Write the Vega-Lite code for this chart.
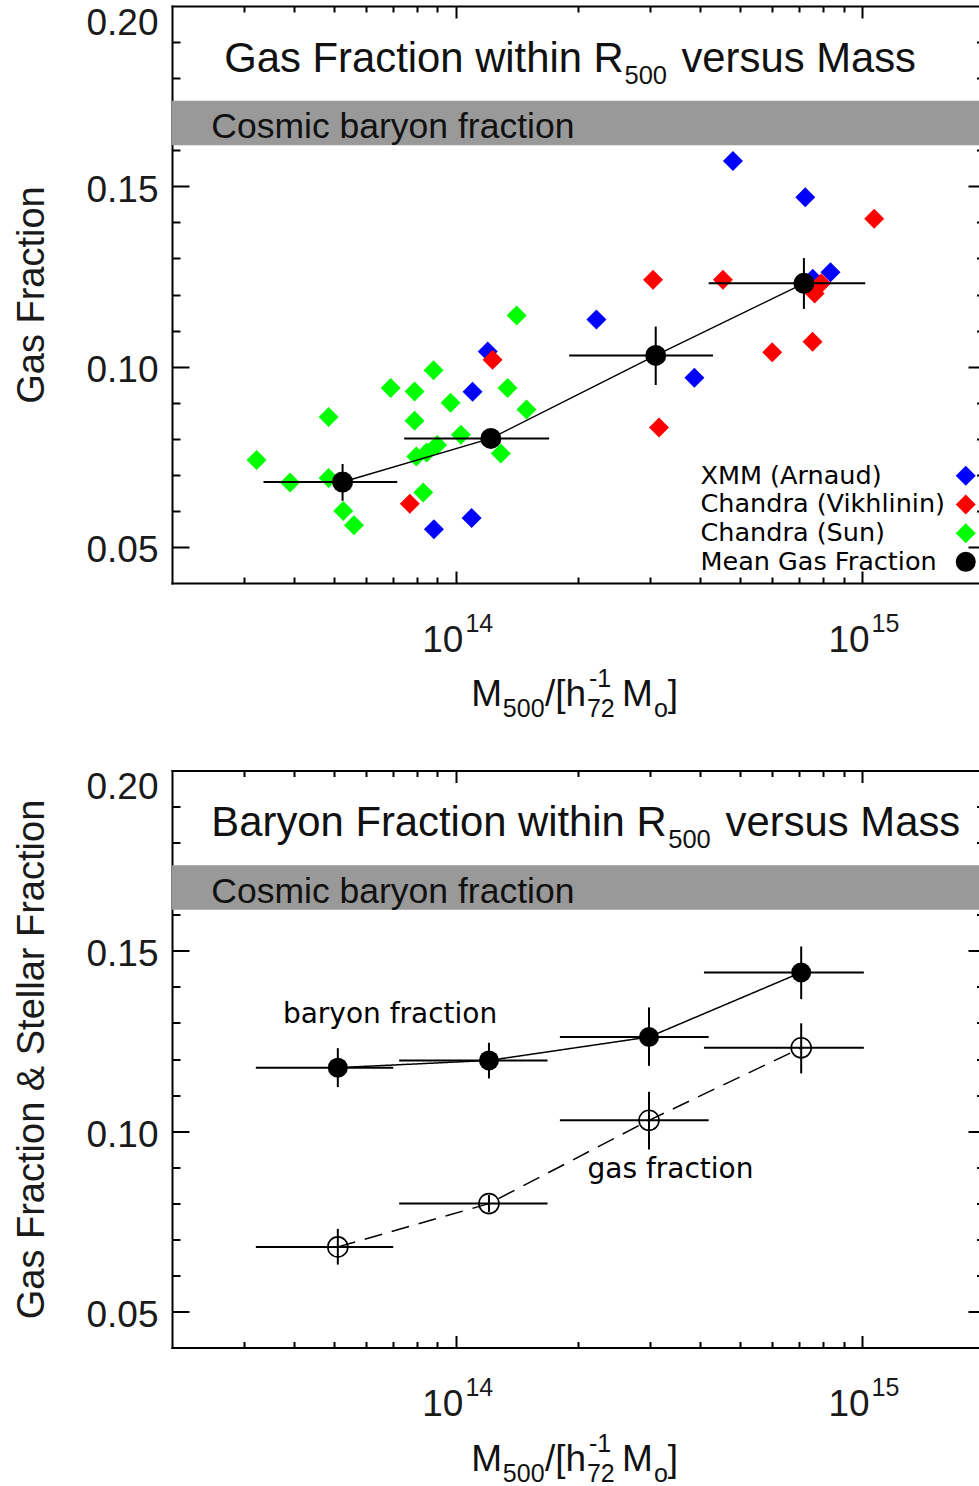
{
  "$schema": "https://vega.github.io/schema/vega-lite/v6.json",
  "padding": {"left": 13, "top": 4, "right": 0, "bottom": 0},
  "background": "white",
  "bounds": "flush",
  "spacing": 187.5,
  "config": {
    "view": {"stroke": null},
    "font": "Liberation Sans",
    "axis": {"grid": false, "domainColor": "black", "domainWidth": 2, "domainCap": "square", "tickColor": "black", "tickWidth": 2, "labelColor": "#1a1a1a", "labelFont": "Liberation Sans", "titleFont": "Liberation Sans", "titleColor": "#1a1a1a", "titleFontWeight": "normal", "labelOverlap": false, "labelFlush": false, "labelBound": false},
    "text": {"font": "Liberation Sans"}
  },
  "resolve": {
    "scale": {"x": "independent", "y": "independent", "color": "independent", "shape": "independent", "strokeDash": "independent"},
    "legend": {"color": "independent", "shape": "independent", "strokeDash": "independent"}
  },
  "vconcat": [
    {
      "width": 807,
      "height": 577,
      "resolve": {"axis": {"x": "independent", "y": "independent"}},
      "layer": [
        {
          "data": {"values": [{"m": 2e13, "m2": 1.94e15, "f": 0.1614, "f2": 0.1737}]},
          "mark": {"type": "rect", "color": "#999999"},
          "encoding": {
            "x": {"field": "m", "type": "quantitative", "scale": {"type": "log", "domain": [2e13, 1.94e15], "nice": false},
              "axis": {"orient": "bottom", "values": [1e14, 1e15], "labelExpr": "'10'", "ticks": false, "domain": true, "labelFontSize": 37, "labelAlign": "right", "labelBaseline": "alphabetic", "labelPadding": 68, "labelOffset": 7, "title": null}},
            "x2": {"field": "m2"},
            "y": {"field": "f", "type": "quantitative", "scale": {"domain": [0.04, 0.2], "nice": false, "zero": false},
              "axis": {"orient": "left", "values": [0.05, 0.1, 0.15, 0.2], "format": ".2f", "ticks": false, "domain": true, "labelFontSize": 37, "labelPadding": 14, "labelOffset": {"condition": {"test": "datum.value > 0.199", "value": 17}, "value": 4}, "title": "Gas Fraction", "titleFontSize": 38, "titleX": -129, "titleBaseline": "alphabetic", "titleAngle": -90}},
            "y2": {"field": "f2"}
          }
        },
        {
          "data": {"values": [{"m": 2.5e13, "f": 0.1633, "t": "Cosmic baryon fraction"}]},
          "mark": {"type": "text", "align": "left", "baseline": "alphabetic", "fontSize": 35.5, "color": "#111111"},
          "encoding": {
            "x": {"field": "m", "type": "quantitative", "scale": {"type": "log", "domain": [2e13, 1.94e15], "nice": false},
              "axis": {"orient": "bottom", "values": [1e14, 1e15], "labelExpr": "'' + round(log(datum.value) / LN10)", "ticks": false, "domain": false, "labelFontSize": 25, "labelAlign": "left", "labelBaseline": "alphabetic", "labelPadding": 48, "labelOffset": 9, "title": null}},
            "y": {"field": "f", "type": "quantitative", "scale": {"domain": [0.04, 0.2], "nice": false, "zero": false},
              "axis": {"orient": "left", "values": [0.05, 0.06, 0.07, 0.08, 0.09, 0.1, 0.11, 0.12, 0.13, 0.14, 0.15, 0.16, 0.17, 0.18, 0.19], "labels": false, "domain": false, "ticks": true, "tickSize": {"condition": {"test": "abs(datum.value * 20 - round(datum.value * 20)) < 0.001", "value": -17}, "value": -8}, "title": null}},
            "text": {"field": "t"}
          }
        },
        {
          "data": {"values": [{"m": 2.69e13, "f": 0.1817, "t": "Gas Fraction within R"}, {"m": 3.591e14, "f": 0.1817, "t": "versus Mass"}]},
          "mark": {"type": "text", "align": "left", "baseline": "alphabetic", "fontSize": 41.8, "color": "#111111"},
          "encoding": {
            "x": {"field": "m", "type": "quantitative", "scale": {"type": "log", "domain": [2e13, 1.94e15], "nice": false},
              "axis": {"orient": "bottom", "values": [3e13, 4e13, 5e13, 6e13, 7e13, 8e13, 9e13, 1e14, 2e14, 3e14, 4e14, 5e14, 6e14, 7e14, 8e14, 9e14, 1e15], "labels": false, "domain": false, "ticks": true, "tickSize": {"condition": {"test": "abs(log(datum.value) / LN10 - round(log(datum.value) / LN10)) < 0.001", "value": -12}, "value": -6}, "title": null}},
            "y": {"field": "f", "type": "quantitative", "scale": {"domain": [0.04, 0.2], "nice": false, "zero": false},
              "axis": {"orient": "right", "values": [0.05, 0.06, 0.07, 0.08, 0.09, 0.1, 0.11, 0.12, 0.13, 0.14, 0.15, 0.16, 0.17, 0.18, 0.19], "labels": false, "domain": false, "ticks": true, "tickSize": {"condition": {"test": "abs(datum.value * 20 - round(datum.value * 20)) < 0.001", "value": -11}, "value": -2.5}, "title": null}},
            "text": {"field": "t"}
          }
        },
        {
          "data": {"values": [{"m": 2.6e14, "f": 0.1784, "t": "500"}]},
          "mark": {"type": "text", "align": "left", "baseline": "alphabetic", "fontSize": 25.5, "color": "#111111"},
          "encoding": {
            "x": {"field": "m", "type": "quantitative", "scale": {"type": "log", "domain": [2e13, 1.94e15], "nice": false},
              "axis": {"orient": "top", "values": [3e13, 4e13, 5e13, 6e13, 7e13, 8e13, 9e13, 1e14, 2e14, 3e14, 4e14, 5e14, 6e14, 7e14, 8e14, 9e14, 1e15], "labels": false, "domain": true, "ticks": true, "tickSize": {"condition": {"test": "abs(log(datum.value) / LN10 - round(log(datum.value) / LN10)) < 0.001", "value": -12}, "value": -6}, "title": null}},
            "y": {"field": "f", "type": "quantitative", "scale": {"domain": [0.04, 0.2], "nice": false, "zero": false}, "axis": null},
            "text": {"field": "t"}
          }
        },
        {
          "data": {"values": [
            {"s": "XMM (Arnaud)", "m": 1.198e14, "f": 0.1042},
            {"s": "XMM (Arnaud)", "m": 1.099e14, "f": 0.0930},
            {"s": "XMM (Arnaud)", "m": 8.83e13, "f": 0.0549},
            {"s": "XMM (Arnaud)", "m": 1.093e14, "f": 0.0580},
            {"s": "XMM (Arnaud)", "m": 2.218e14, "f": 0.1131},
            {"s": "XMM (Arnaud)", "m": 3.865e14, "f": 0.0969},
            {"s": "XMM (Arnaud)", "m": 4.808e14, "f": 0.1570},
            {"s": "XMM (Arnaud)", "m": 7.245e14, "f": 0.1470},
            {"s": "XMM (Arnaud)", "m": 8.36e14, "f": 0.1262},
            {"s": "XMM (Arnaud)", "m": 7.56e14, "f": 0.1244},
            {"s": "Chandra (Vikhlinin)", "m": 1.231e14, "f": 0.1019},
            {"s": "Chandra (Vikhlinin)", "m": 7.70e13, "f": 0.0620},
            {"s": "Chandra (Vikhlinin)", "m": 3.057e14, "f": 0.1241},
            {"s": "Chandra (Vikhlinin)", "m": 4.544e14, "f": 0.1241},
            {"s": "Chandra (Vikhlinin)", "m": 3.162e14, "f": 0.0831},
            {"s": "Chandra (Vikhlinin)", "m": 6.008e14, "f": 0.1040},
            {"s": "Chandra (Vikhlinin)", "m": 7.551e14, "f": 0.1069},
            {"s": "Chandra (Vikhlinin)", "m": 1.071e15, "f": 0.1410},
            {"s": "Chandra (Vikhlinin)", "m": 7.93e14, "f": 0.1231},
            {"s": "Chandra (Vikhlinin)", "m": 7.64e14, "f": 0.1203},
            {"s": "Chandra (Sun)", "m": 3.23e13, "f": 0.0741},
            {"s": "Chandra (Sun)", "m": 3.905e13, "f": 0.0679},
            {"s": "Chandra (Sun)", "m": 4.86e13, "f": 0.0860},
            {"s": "Chandra (Sun)", "m": 4.86e13, "f": 0.0691},
            {"s": "Chandra (Sun)", "m": 5.28e13, "f": 0.0600},
            {"s": "Chandra (Sun)", "m": 5.61e13, "f": 0.0560},
            {"s": "Chandra (Sun)", "m": 6.91e13, "f": 0.0941},
            {"s": "Chandra (Sun)", "m": 7.91e13, "f": 0.0931},
            {"s": "Chandra (Sun)", "m": 7.91e13, "f": 0.0850},
            {"s": "Chandra (Sun)", "m": 8.81e13, "f": 0.0990},
            {"s": "Chandra (Sun)", "m": 9.70e13, "f": 0.0900},
            {"s": "Chandra (Sun)", "m": 1.029e14, "f": 0.0811},
            {"s": "Chandra (Sun)", "m": 7.99e13, "f": 0.0751},
            {"s": "Chandra (Sun)", "m": 8.47e13, "f": 0.0762},
            {"s": "Chandra (Sun)", "m": 8.99e13, "f": 0.0783},
            {"s": "Chandra (Sun)", "m": 8.31e13, "f": 0.0651},
            {"s": "Chandra (Sun)", "m": 1.411e14, "f": 0.1142},
            {"s": "Chandra (Sun)", "m": 1.340e14, "f": 0.0941},
            {"s": "Chandra (Sun)", "m": 1.492e14, "f": 0.0881},
            {"s": "Chandra (Sun)", "m": 1.290e14, "f": 0.0759}
          ]},
          "mark": {"type": "point", "filled": true, "size": 400, "opacity": 1},
          "encoding": {
            "x": {"field": "m", "type": "quantitative", "scale": {"type": "log", "domain": [2e13, 1.94e15], "nice": false}, "axis": null},
            "y": {"field": "f", "type": "quantitative", "scale": {"domain": [0.04, 0.2], "nice": false, "zero": false}, "axis": null},
            "color": {"field": "s", "type": "nominal",
              "scale": {"domain": ["XMM (Arnaud)", "Chandra (Vikhlinin)", "Chandra (Sun)", "Mean Gas Fraction"], "range": ["#0000ff", "#ff0000", "#00ff00", "#000000"]},
              "legend": {"orient": "none", "legendX": 781, "legendY": 457, "title": null, "labelFont": "DejaVu Sans", "labelFontSize": 25.5, "labelColor": "black", "labelLimit": 500, "symbolSize": 400, "labelOffset": -278, "labelAlign": "left", "rowPadding": 1.7, "padding": 0, "symbolStrokeWidth": 0}},
            "shape": {"field": "s", "type": "nominal",
              "scale": {"domain": ["XMM (Arnaud)", "Chandra (Vikhlinin)", "Chandra (Sun)", "Mean Gas Fraction"], "range": ["diamond", "diamond", "diamond", "circle"]},
              "legend": {"orient": "none", "legendX": 781, "legendY": 457, "title": null, "labelFont": "DejaVu Sans", "labelFontSize": 25.5, "labelColor": "black", "labelLimit": 500, "symbolSize": 400, "labelOffset": -278, "labelAlign": "left", "rowPadding": 1.7, "padding": 0, "symbolStrokeWidth": 0}}
          }
        },
        {
          "data": {"values": [
            {"s": "Mean Gas Fraction", "m": 5.26e13, "f": 0.0680, "mlo": 3.36e13, "mhi": 7.17e13, "flo": 0.0628, "fhi": 0.0730},
            {"s": "Mean Gas Fraction", "m": 1.219e14, "f": 0.0801, "mlo": 7.46e13, "mhi": 1.696e14, "flo": 0.0777, "fhi": 0.0825},
            {"s": "Mean Gas Fraction", "m": 3.104e14, "f": 0.1031, "mlo": 1.900e14, "mhi": 4.294e14, "flo": 0.0949, "fhi": 0.1111},
            {"s": "Mean Gas Fraction", "m": 7.19e14, "f": 0.1231, "mlo": 4.19e14, "mhi": 1.018e15, "flo": 0.1160, "fhi": 0.1301}
          ]},
          "layer": [
            {
              "mark": {"type": "line", "color": "black", "strokeWidth": 1.5},
              "encoding": {
                "x": {"field": "m", "type": "quantitative", "scale": {"type": "log", "domain": [2e13, 1.94e15], "nice": false}, "axis": null},
                "y": {"field": "f", "type": "quantitative", "scale": {"domain": [0.04, 0.2], "nice": false, "zero": false}, "axis": null}
              }
            },
            {
              "mark": {"type": "rule", "color": "black", "strokeWidth": 2},
              "encoding": {
                "x": {"field": "mlo", "type": "quantitative", "scale": {"type": "log", "domain": [2e13, 1.94e15], "nice": false}, "axis": null},
                "x2": {"field": "mhi"},
                "y": {"field": "f", "type": "quantitative", "scale": {"domain": [0.04, 0.2], "nice": false, "zero": false}, "axis": null}
              }
            },
            {
              "mark": {"type": "rule", "color": "black", "strokeWidth": 2},
              "encoding": {
                "x": {"field": "m", "type": "quantitative", "scale": {"type": "log", "domain": [2e13, 1.94e15], "nice": false}, "axis": null},
                "y": {"field": "flo", "type": "quantitative", "scale": {"domain": [0.04, 0.2], "nice": false, "zero": false}, "axis": null},
                "y2": {"field": "fhi"}
              }
            },
            {
              "mark": {"type": "point", "filled": true, "size": 441, "opacity": 1},
              "encoding": {
                "x": {"field": "m", "type": "quantitative", "scale": {"type": "log", "domain": [2e13, 1.94e15], "nice": false}, "axis": null},
                "y": {"field": "f", "type": "quantitative", "scale": {"domain": [0.04, 0.2], "nice": false, "zero": false}, "axis": null},
                "color": {"field": "s", "type": "nominal", "scale": {"domain": ["XMM (Arnaud)", "Chandra (Vikhlinin)", "Chandra (Sun)", "Mean Gas Fraction"], "range": ["#0000ff", "#ff0000", "#00ff00", "#000000"]}},
                "shape": {"field": "s", "type": "nominal", "scale": {"domain": ["XMM (Arnaud)", "Chandra (Vikhlinin)", "Chandra (Sun)", "Mean Gas Fraction"], "range": ["diamond", "diamond", "diamond", "circle"]}}
              }
            }
          ]
        },
        {
          "data": {"values": [{"m": 1.091e14, "f": 0.00583, "t": "M"}, {"m": 1.656e14, "f": 0.00583, "t": "/[h"}, {"m": 2.563e14, "f": 0.00583, "t": "M"}, {"m": 3.325e14, "f": 0.00583, "t": "]"}]},
          "mark": {"type": "text", "align": "left", "baseline": "alphabetic", "fontSize": 37, "color": "#111111"},
          "encoding": {
            "x": {"field": "m", "type": "quantitative", "scale": {"type": "log", "domain": [2e13, 1.94e15], "nice": false}, "axis": null},
            "y": {"field": "f", "type": "quantitative", "scale": {"domain": [0.04, 0.2], "nice": false, "zero": false}, "axis": null},
            "text": {"field": "t"}
          }
        },
        {
          "data": {"values": [{"m": 1.305e14, "f": 0.00278, "t": "500"}, {"m": 2.101e14, "f": 0.00278, "t": "72"}, {"m": 2.125e14, "f": 0.01111, "t": "-1"}, {"m": 3.073e14, "f": 0.00278, "t": "o"}]},
          "mark": {"type": "text", "align": "left", "baseline": "alphabetic", "fontSize": 25, "color": "#111111"},
          "encoding": {
            "x": {"field": "m", "type": "quantitative", "scale": {"type": "log", "domain": [2e13, 1.94e15], "nice": false}, "axis": null},
            "y": {"field": "f", "type": "quantitative", "scale": {"domain": [0.04, 0.2], "nice": false, "zero": false}, "axis": null},
            "text": {"field": "t"}
          }
        }
      ]
    },
    {
      "width": 807,
      "height": 577,
      "resolve": {"axis": {"x": "independent", "y": "independent"}},
      "layer": [
        {
          "data": {"values": [{"m": 2e13, "m2": 1.94e15, "f": 0.1614, "f2": 0.1737}]},
          "mark": {"type": "rect", "color": "#999999"},
          "encoding": {
            "x": {"field": "m", "type": "quantitative", "scale": {"type": "log", "domain": [2e13, 1.94e15], "nice": false},
              "axis": {"orient": "bottom", "values": [1e14, 1e15], "labelExpr": "'10'", "ticks": false, "domain": true, "labelFontSize": 37, "labelAlign": "right", "labelBaseline": "alphabetic", "labelPadding": 68, "labelOffset": 7, "title": null}},
            "x2": {"field": "m2"},
            "y": {"field": "f", "type": "quantitative", "scale": {"domain": [0.04, 0.2], "nice": false, "zero": false},
              "axis": {"orient": "left", "values": [0.05, 0.1, 0.15, 0.2], "format": ".2f", "ticks": false, "domain": true, "labelFontSize": 37, "labelPadding": 14, "labelOffset": {"condition": {"test": "datum.value > 0.199", "value": 17}, "value": 4}, "title": "Gas Fraction & Stellar Fraction", "titleFontSize": 38, "titleX": -129, "titleBaseline": "alphabetic", "titleAngle": -90}},
            "y2": {"field": "f2"}
          }
        },
        {
          "data": {"values": [{"m": 2.5e13, "f": 0.1633, "t": "Cosmic baryon fraction"}]},
          "mark": {"type": "text", "align": "left", "baseline": "alphabetic", "fontSize": 35.5, "color": "#111111"},
          "encoding": {
            "x": {"field": "m", "type": "quantitative", "scale": {"type": "log", "domain": [2e13, 1.94e15], "nice": false},
              "axis": {"orient": "bottom", "values": [1e14, 1e15], "labelExpr": "'' + round(log(datum.value) / LN10)", "ticks": false, "domain": false, "labelFontSize": 25, "labelAlign": "left", "labelBaseline": "alphabetic", "labelPadding": 48, "labelOffset": 9, "title": null}},
            "y": {"field": "f", "type": "quantitative", "scale": {"domain": [0.04, 0.2], "nice": false, "zero": false},
              "axis": {"orient": "left", "values": [0.05, 0.06, 0.07, 0.08, 0.09, 0.1, 0.11, 0.12, 0.13, 0.14, 0.15, 0.16, 0.17, 0.18, 0.19], "labels": false, "domain": false, "ticks": true, "tickSize": {"condition": {"test": "abs(datum.value * 20 - round(datum.value * 20)) < 0.001", "value": -17}, "value": -8}, "title": null}},
            "text": {"field": "t"}
          }
        },
        {
          "data": {"values": [{"m": 2.5e13, "f": 0.1817, "t": "Baryon Fraction within R"}, {"m": 4.613e14, "f": 0.1817, "t": "versus Mass"}]},
          "mark": {"type": "text", "align": "left", "baseline": "alphabetic", "fontSize": 41.8, "color": "#111111"},
          "encoding": {
            "x": {"field": "m", "type": "quantitative", "scale": {"type": "log", "domain": [2e13, 1.94e15], "nice": false},
              "axis": {"orient": "bottom", "values": [3e13, 4e13, 5e13, 6e13, 7e13, 8e13, 9e13, 1e14, 2e14, 3e14, 4e14, 5e14, 6e14, 7e14, 8e14, 9e14, 1e15], "labels": false, "domain": false, "ticks": true, "tickSize": {"condition": {"test": "abs(log(datum.value) / LN10 - round(log(datum.value) / LN10)) < 0.001", "value": -12}, "value": -6}, "title": null}},
            "y": {"field": "f", "type": "quantitative", "scale": {"domain": [0.04, 0.2], "nice": false, "zero": false},
              "axis": {"orient": "right", "values": [0.05, 0.06, 0.07, 0.08, 0.09, 0.1, 0.11, 0.12, 0.13, 0.14, 0.15, 0.16, 0.17, 0.18, 0.19], "labels": false, "domain": false, "ticks": true, "tickSize": {"condition": {"test": "abs(datum.value * 20 - round(datum.value * 20)) < 0.001", "value": -11}, "value": -2.5}, "title": null}},
            "text": {"field": "t"}
          }
        },
        {
          "data": {"values": [{"m": 3.332e14, "f": 0.1784, "t": "500"}]},
          "mark": {"type": "text", "align": "left", "baseline": "alphabetic", "fontSize": 25.5, "color": "#111111"},
          "encoding": {
            "x": {"field": "m", "type": "quantitative", "scale": {"type": "log", "domain": [2e13, 1.94e15], "nice": false},
              "axis": {"orient": "top", "values": [3e13, 4e13, 5e13, 6e13, 7e13, 8e13, 9e13, 1e14, 2e14, 3e14, 4e14, 5e14, 6e14, 7e14, 8e14, 9e14, 1e15], "labels": false, "domain": true, "ticks": true, "tickSize": {"condition": {"test": "abs(log(datum.value) / LN10 - round(log(datum.value) / LN10)) < 0.001", "value": -12}, "value": -6}, "title": null}},
            "y": {"field": "f", "type": "quantitative", "scale": {"domain": [0.04, 0.2], "nice": false, "zero": false}, "axis": null},
            "text": {"field": "t"}
          }
        },
        {
          "data": {"values": [
            {"k": "baryon", "m": 5.12e13, "f": 0.1176, "mlo": 3.217e13, "mhi": 7.01e13, "flo": 0.1122, "fhi": 0.1230},
            {"k": "baryon", "m": 1.206e14, "f": 0.1196, "mlo": 7.25e13, "mhi": 1.681e14, "flo": 0.1146, "fhi": 0.1245},
            {"k": "baryon", "m": 2.988e14, "f": 0.1261, "mlo": 1.803e14, "mhi": 4.19e14, "flo": 0.1181, "fhi": 0.1343},
            {"k": "baryon", "m": 7.08e14, "f": 0.1440, "mlo": 4.08e14, "mhi": 1.010e15, "flo": 0.1366, "fhi": 0.1512},
            {"k": "gas", "m": 5.12e13, "f": 0.0679, "mlo": 3.217e13, "mhi": 7.01e13, "flo": 0.0630, "fhi": 0.0729},
            {"k": "gas", "m": 1.206e14, "f": 0.0799, "mlo": 7.25e13, "mhi": 1.681e14, "flo": 0.0775, "fhi": 0.0823},
            {"k": "gas", "m": 2.988e14, "f": 0.1030, "mlo": 1.803e14, "mhi": 4.19e14, "flo": 0.0949, "fhi": 0.1109},
            {"k": "gas", "m": 7.08e14, "f": 0.1231, "mlo": 4.08e14, "mhi": 1.010e15, "flo": 0.1160, "fhi": 0.1299}
          ]},
          "layer": [
            {
              "mark": {"type": "line", "color": "black", "strokeWidth": 1.5},
              "encoding": {
                "x": {"field": "m", "type": "quantitative", "scale": {"type": "log", "domain": [2e13, 1.94e15], "nice": false}, "axis": null},
                "y": {"field": "f", "type": "quantitative", "scale": {"domain": [0.04, 0.2], "nice": false, "zero": false}, "axis": null},
                "strokeDash": {"field": "k", "type": "nominal", "scale": {"domain": ["baryon", "gas"], "range": [[1, 0], [18, 10]]}, "legend": null}
              }
            },
            {
              "mark": {"type": "rule", "color": "black", "strokeWidth": 2},
              "encoding": {
                "x": {"field": "mlo", "type": "quantitative", "scale": {"type": "log", "domain": [2e13, 1.94e15], "nice": false}, "axis": null},
                "x2": {"field": "mhi"},
                "y": {"field": "f", "type": "quantitative", "scale": {"domain": [0.04, 0.2], "nice": false, "zero": false}, "axis": null}
              }
            },
            {
              "mark": {"type": "rule", "color": "black", "strokeWidth": 2},
              "encoding": {
                "x": {"field": "m", "type": "quantitative", "scale": {"type": "log", "domain": [2e13, 1.94e15], "nice": false}, "axis": null},
                "y": {"field": "flo", "type": "quantitative", "scale": {"domain": [0.04, 0.2], "nice": false, "zero": false}, "axis": null},
                "y2": {"field": "fhi"}
              }
            },
            {
              "transform": [{"filter": "datum.k === 'baryon'"}],
              "mark": {"type": "point", "shape": "circle", "filled": true, "size": 400, "color": "black", "opacity": 1},
              "encoding": {
                "x": {"field": "m", "type": "quantitative", "scale": {"type": "log", "domain": [2e13, 1.94e15], "nice": false}, "axis": null},
                "y": {"field": "f", "type": "quantitative", "scale": {"domain": [0.04, 0.2], "nice": false, "zero": false}, "axis": null}
              }
            },
            {
              "transform": [{"filter": "datum.k === 'gas'"}],
              "mark": {"type": "point", "shape": "circle", "filled": false, "size": 400, "stroke": "black", "strokeWidth": 1.6, "opacity": 1},
              "encoding": {
                "x": {"field": "m", "type": "quantitative", "scale": {"type": "log", "domain": [2e13, 1.94e15], "nice": false}, "axis": null},
                "y": {"field": "f", "type": "quantitative", "scale": {"domain": [0.04, 0.2], "nice": false, "zero": false}, "axis": null}
              }
            }
          ]
        },
        {
          "data": {"values": [{"m": 3.75e13, "f": 0.1300, "t": "baryon fraction"}, {"m": 2.108e14, "f": 0.0869, "t": "gas fraction"}]},
          "mark": {"type": "text", "align": "left", "baseline": "alphabetic", "fontSize": 28, "font": "DejaVu Sans", "color": "black"},
          "encoding": {
            "x": {"field": "m", "type": "quantitative", "scale": {"type": "log", "domain": [2e13, 1.94e15], "nice": false}, "axis": null},
            "y": {"field": "f", "type": "quantitative", "scale": {"domain": [0.04, 0.2], "nice": false, "zero": false}, "axis": null},
            "text": {"field": "t"}
          }
        },
        {
          "data": {"values": [{"m": 1.091e14, "f": 0.00583, "t": "M"}, {"m": 1.656e14, "f": 0.00583, "t": "/[h"}, {"m": 2.563e14, "f": 0.00583, "t": "M"}, {"m": 3.325e14, "f": 0.00583, "t": "]"}]},
          "mark": {"type": "text", "align": "left", "baseline": "alphabetic", "fontSize": 37, "color": "#111111"},
          "encoding": {
            "x": {"field": "m", "type": "quantitative", "scale": {"type": "log", "domain": [2e13, 1.94e15], "nice": false}, "axis": null},
            "y": {"field": "f", "type": "quantitative", "scale": {"domain": [0.04, 0.2], "nice": false, "zero": false}, "axis": null},
            "text": {"field": "t"}
          }
        },
        {
          "data": {"values": [{"m": 1.305e14, "f": 0.00278, "t": "500"}, {"m": 2.101e14, "f": 0.00278, "t": "72"}, {"m": 2.125e14, "f": 0.01111, "t": "-1"}, {"m": 3.073e14, "f": 0.00278, "t": "o"}]},
          "mark": {"type": "text", "align": "left", "baseline": "alphabetic", "fontSize": 25, "color": "#111111"},
          "encoding": {
            "x": {"field": "m", "type": "quantitative", "scale": {"type": "log", "domain": [2e13, 1.94e15], "nice": false}, "axis": null},
            "y": {"field": "f", "type": "quantitative", "scale": {"domain": [0.04, 0.2], "nice": false, "zero": false}, "axis": null},
            "text": {"field": "t"}
          }
        }
      ]
    }
  ]
}
